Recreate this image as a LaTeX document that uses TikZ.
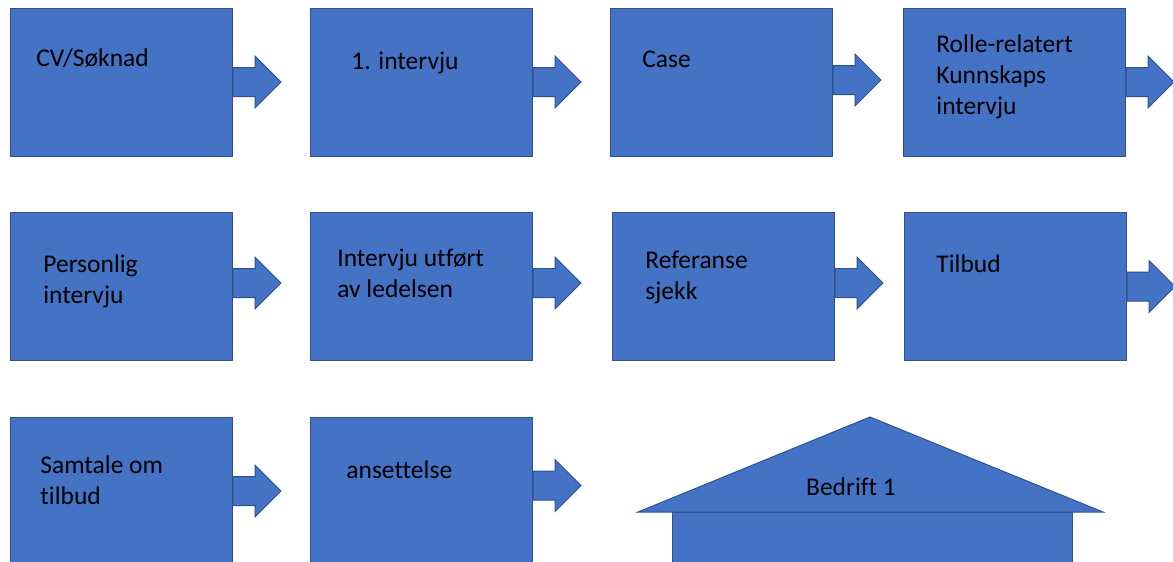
\documentclass[tikz,border=0pt]{standalone}
\usepackage{fontspec}
\setmainfont{Carlito}[Ligatures=NoCommon]
\usetikzlibrary{positioning,shapes.arrows}
\definecolor{stepblue}{HTML}{4472C4}
\definecolor{stepedge}{HTML}{2F528F}

\tikzset{
  stage/.style={draw=stepedge, fill=stepblue, line width=0.5pt,
    minimum width=111pt, minimum height=74pt, inner sep=0},
  stagetext/.style={font=\fontsize{12.75}{15.5}\selectfont, align=left,
    anchor=base west, inner sep=0, text=black},
  nextarrow/.style={single arrow, draw=stepedge, fill=stepblue, line width=0.5pt,
    minimum height=24pt, single arrow head extend=5.75pt,
    inner xsep=0, inner ysep=7pt, anchor=tail},
}

\begin{document}
\begin{tikzpicture}[x=0.5pt, y=-0.5pt]
    \clip (0,0) rectangle (1173,562);

    % Row 1
    \node[stage] (cv) at (121,82) {};
    \node[stage] (int1) at (421,82) {};
    \node[stage] (case) at (721,82) {};
    \node[stage] (rolle) at (1014,82) {};
    \node[nextarrow] (a1) at (cv.east) {};
    \node[nextarrow] (a2) at (int1.east) {};
    \node[nextarrow] (a3) at ([yshift=1pt]case.east) {};
    \node[nextarrow] (a4) at (rolle.east) {};
    \node[stagetext] (cvtxt) at (36,66) {CV/Søknad};
    \node[stagetext] (int1txt) at (351,69) {1. intervju};
    \node[stagetext] (casetxt) at (642,68) {Case};
    \node[stagetext] (rolletxt) at (936,114) {Rolle-relatert\\Kunnskaps\\intervju};

    % Row 2
    \node[stage] (pers) at (121,286.5) {};
    \node[stage] (leder) at (421,286.5) {};
    \node[stage] (ref) at (723,286.5) {};
    \node[stage] (tilbud) at (1015,286.5) {};
    \node[nextarrow] (a5) at ([yshift=1.75pt]pers.east) {};
    \node[nextarrow] (a6) at ([yshift=1.75pt]leder.east) {};
    \node[nextarrow] (a7) at ([yshift=1.75pt]ref.east) {};
    \node[nextarrow] (a8) at (tilbud.east) {};
    \node[stagetext] (perstxt) at (43,303) {Personlig\\intervju};
    \node[stagetext] (ledertxt) at (337,297) {Intervju utført\\av ledelsen};
    \node[stagetext] (reftxt) at (645,299) {Referanse\\sjekk};
    \node[stagetext] (tilbudtxt) at (936,272) {Tilbud};

    % Row 3
    \node[stage] (samtale) at (121,491) {};
    \node[stage] (ansett) at (421,491) {};
    \node[nextarrow] (a9) at (samtale.east) {};
    \node[nextarrow] (a10) at ([yshift=2.75pt]ansett.east) {};
    \node[stagetext] (samtaletxt) at (40,504) {Samtale om\\tilbud};
    \node[stagetext] (ansetttxt) at (346,478) {ansettelse};

    % Bedrift 1 house
    \filldraw[stepblue, draw=stepedge, line width=0.5pt] (672,512) rectangle (1072,600);
    \filldraw[stepblue, draw=stepedge, line width=0.5pt] (638,512) -- (870,417) -- (1103,512) -- cycle;
    \node[stagetext, anchor=base] (bedrift) at (851,495) {Bedrift 1};
\end{tikzpicture}
\end{document}
